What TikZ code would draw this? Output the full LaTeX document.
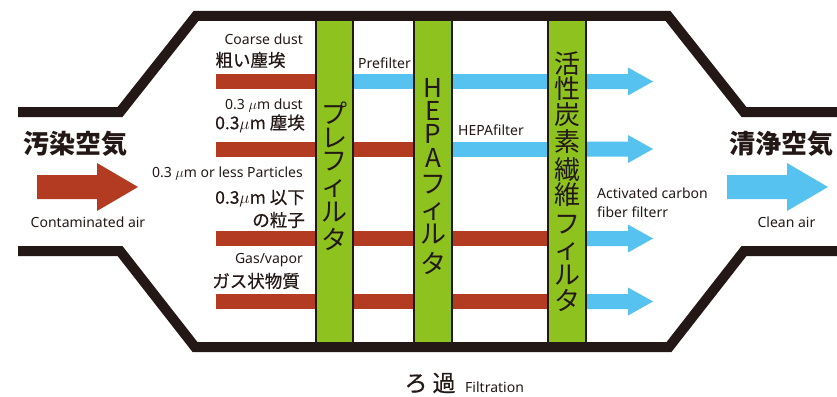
\documentclass[tikz,border=0pt]{standalone}
\usepackage{fontspec}
\setmainfont{Noto Sans}
\newfontfamily\cjk{Noto Sans CJK JP}
\newfontfamily\cjkm[FakeBold=0.5]{Noto Sans CJK JP}
\definecolor{ink}{HTML}{231815}
\definecolor{rust}{HTML}{B33B22}
\definecolor{sky}{HTML}{56C2F0}
\definecolor{leaf}{HTML}{8DC21F}
\begin{document}
\begin{tikzpicture}[x=1pt,y=-1pt,
  lbl/.style={font=\fontsize{14}{16}\selectfont, text=ink, inner sep=0pt},
  jlbl/.style={font=\cjkm\fontsize{17.5}{20}\selectfont, text=ink, inner sep=0pt},
  bighead/.style={font=\cjk\bfseries\fontsize{26}{28}\selectfont, text=ink, inner sep=0pt},
  vt/.style={font=\cjk\fontsize{26}{28}\selectfont, text=ink, inner sep=0pt,
             text height=19.8pt, text depth=0pt},
  outline/.style={draw=ink, line width=10pt},
  filt/.style={draw=ink, fill=leaf, line width=2pt}]

\useasboundingbox (0,0) rectangle (837,396);

% flow bars
\foreach \y/\cb/\cc in {81.5/sky/sky, 149/rust/sky, 238.5/rust/rust, 301.5/rust/rust} {
  \fill[rust] (216,{\y-7.5}) rectangle (334,{\y+7.5});
  \fill[\cb] (334,{\y-7.5}) rectangle (433,{\y+7.5});
  \fill[\cc] (433,{\y-7.5}) rectangle (567,{\y+7.5});
  \fill[sky] (567,{\y-7.5}) -- (628,{\y-7.5}) -- (628,{\y-14}) -- (653,\y)
     -- (628,{\y+14}) -- (628,{\y+7.5}) -- (567,{\y+7.5}) -- cycle;
}

% filters
\draw[filt] (316,16) rectangle (353,347);
\draw[filt] (414,16) rectangle (452,347);
\draw[filt] (548,16) rectangle (586,347);

% housing outline
\draw[outline] (18,112) -- (120,112) -- (196,16) -- (668,16) -- (744,112) -- (837,112);
\draw[outline] (18,251) -- (120,251) -- (195,347) -- (669,347) -- (744,251) -- (837,251);

% big arrows
\fill[rust] (37,175) -- (97,175) -- (97,163) -- (138,187) -- (97,211) -- (97,199) -- (37,199) -- cycle;
\fill[sky] (727,175) -- (787,175) -- (787,163) -- (828,187) -- (787,211) -- (787,199) -- (727,199) -- cycle;

% vertical filter names
\foreach \c/\yy [count=\i] in {プ/113.5, レ/137.5, フ/161, ィ/186, ル/211.5, タ/240}
  \node[vt] (pre\i) at (334.5,\yy) {\c};
\foreach \c/\yy [count=\i] in {H/88, E/111, P/134, A/158, フ/183.5, ィ/209, ル/234, タ/264}
  \node[vt] (hepa\i) at (433,\yy) {\c};
\foreach \c/\yy [count=\i] in {活/63.5, 性/89, 炭/115, 素/141.5, 繊/169.5, 維/195, フ/224, ィ/249, ル/275, タ/301}
  \node[vt] (carb\i) at (567,\yy) {\c};

% left labels
\node[lbl, anchor=base east] (coarseEn) at (303,45) {Coarse dust};
\node[jlbl] (coarseJa) at (250.5,60) {粗い塵埃};
\node[lbl, anchor=base east] (dustEn) at (303,109) {0.3 $\mu$m dust};
\node[jlbl, anchor=east] (dustJa) at (305,123.5) {0.3$\mu$m 塵埃};
\node[lbl, anchor=base east] (partEn) at (303,177) {0.3 $\mu$m or less Particles};
\node[jlbl, anchor=east] (partJa1) at (305,198.5) {0.3$\mu$m 以下};
\node[jlbl, anchor=east] (partJa2) at (305,220) {の粒子};
\node[lbl, anchor=base east] (gasEn) at (303,263) {Gas/vapor};
\node[jlbl, anchor=east] (gasJa) at (300,281) {ガス状物質};

% filter labels
\node[lbl, anchor=base west] (preLbl) at (358,68) {Prefilter};
\node[lbl, anchor=base west] (hepaLbl) at (458,135) {HEPAfilter};
\node[lbl, anchor=base west] (carbLbl1) at (597,198) {Activated carbon};
\node[lbl, anchor=base west] (carbLbl2) at (597,217) {fiber filterr};

% air labels
\node[bighead] (dirty) at (75,144) {汚染空気};
\node[lbl, anchor=base] (dirtyEn) at (88,227) {Contaminated air};
\node[bighead] (clean) at (781,144) {清浄空気};
\node[lbl, anchor=base] (cleanEn) at (786.5,227) {Clean air};

% bottom caption
\node[font=\cjkm\fontsize{23}{25}\selectfont, text=ink, inner sep=0pt] (roka) at (430,383) {ろ\kern5pt 過};
\node[lbl, anchor=base west] (filtEn) at (465,392) {Filtration};
\end{tikzpicture}
\end{document}
